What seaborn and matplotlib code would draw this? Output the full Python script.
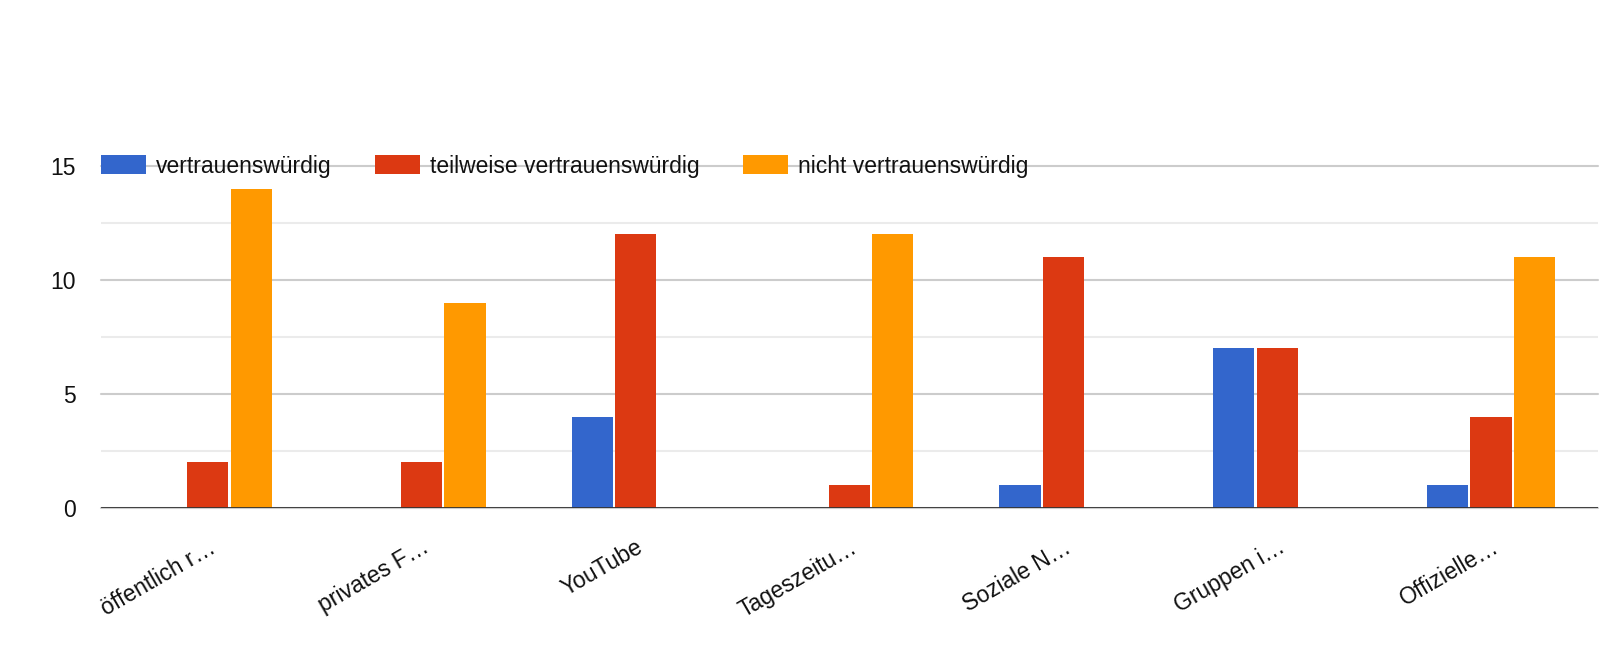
import matplotlib
matplotlib.use("Agg")
import matplotlib.pyplot as plt
import seaborn as sns
import pandas as pd

categories = ["öffentlich r…", "privates F…", "YouTube", "Tageszeitu…",
              "Soziale N…", "Gruppen i…", "Offizielle…"]
series_names = ["vertrauenswürdig", "teilweise vertrauenswürdig", "nicht vertrauenswürdig"]
vertrauenswuerdig = [0, 0, 4, 0, 1, 7, 1]
teilweise = [2, 2, 12, 1, 11, 7, 4]
nicht = [14, 9, 0, 12, 0, 0, 11]
colors = ["#3366CC", "#DC3912", "#FF9900"]
y_ticks = [0, 5, 10, 15]

rows = []
for name, vals in zip(series_names, [vertrauenswuerdig, teilweise, nicht]):
    for c, v in zip(categories, vals):
        rows.append({"Kategorie": c, "Serie": name, "Anzahl": v})
df = pd.DataFrame(rows)

sns.set_theme(style="white")
plt.rcParams["font.family"] = ["Liberation Sans", "DejaVu Sans"]

W, H = 1600, 664
fig = plt.figure(figsize=(W / 100, H / 100), dpi=100)
left, right, top, bottom = 100.85, 1598, 166, 508
ax = fig.add_axes([left / W, 1 - bottom / H, (right - left) / W, (bottom - top) / H])

sns.barplot(data=df, x="Kategorie", y="Anzahl", hue="Serie", order=categories,
            hue_order=series_names, palette=colors, width=0.6075, gap=0.05,
            linewidth=0, saturation=1, ax=ax, legend=True)

ax.set_ylim(0, 15)
ax.set_xlim(-0.5, len(categories) - 0.5)
ax.set_yticks(y_ticks)
ax.set_yticks([2.5, 7.5, 12.5], minor=True)
ax.grid(axis="y", which="major", color="#cccccc", linewidth=1.5, zorder=0)
ax.grid(axis="y", which="minor", color="#ebebeb", linewidth=1.5, zorder=0)
ax.grid(axis="x", visible=False)
ax.set_axisbelow(True)
for ln in ax.get_ygridlines():
    ln.set_clip_on(False)
ax.axhline(0, color="#333333", linewidth=2, zorder=3)
for s in ax.spines.values():
    s.set_visible(False)
ax.set_xlabel("")
ax.set_ylabel("")
ax.tick_params(axis="y", which="both", length=0, pad=18, labelsize=16.5, labelcolor="#111111")
ax.tick_params(axis="x", length=0, pad=20, labelsize=16.5, labelcolor="#111111")
for lab in ax.get_xticklabels():
    lab.set_rotation(30)
    lab.set_ha("right")
    lab.set_va("top")
    lab.set_rotation_mode("anchor")

handles, labels = ax.get_legend_handles_labels()
leg = ax.legend(handles, labels, loc="center left", bbox_to_anchor=(0, 1.0), ncol=3,
                frameon=False, fontsize=16.5, handlelength=1.95, handleheight=0.9,
                handletextpad=0.45, columnspacing=1.9, borderpad=0, borderaxespad=0)
for t in leg.get_texts():
    t.set_color("#111111")

fig.savefig("out.png", dpi=100, facecolor="white")
